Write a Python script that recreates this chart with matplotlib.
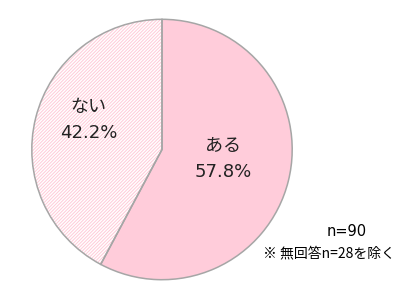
import matplotlib
matplotlib.use('Agg')
import matplotlib.pyplot as plt

plt.rcParams['font.family'] = ['DejaVu Sans', 'Noto Sans CJK JP']
plt.rcParams['hatch.linewidth'] = 0.7

labels = ['ある', 'ない']
values = [57.8, 42.2]
n_total = 90
n_missing = 28

pink = '#FFCCDA'
hatch_pink = '#FFCAD8'
edge = '#A6A6A6'

fig = plt.figure(figsize=(3.98, 3.07), dpi=100)
# pie box: centre (162, 149.5) px from top-left, radius 131.5 px
W, H = 398, 307
cx, cy, r = 162, 149.5, 131.5
ax = fig.add_axes([(cx - r) / W, (H - cy - r) / H, 2 * r / W, 2 * r / H])

# fill layer
wedges, _ = ax.pie(values, startangle=90, counterclock=False,
                   colors=[pink, 'white'], radius=1,
                   wedgeprops=dict(linewidth=0))
wedges[1].set_hatch('//////////')
wedges[1].set_edgecolor(hatch_pink)

# outline layer
ax.pie(values, startangle=90, counterclock=False, radius=1,
       wedgeprops=dict(fill=False, edgecolor=edge, linewidth=1.1))

ax.set_xlim(-1.01, 1.01)
ax.set_ylim(-1.01, 1.01)
ax.axis('off')

# labels inside slices
pos = [(0.47, -0.076), (-0.563, 0.224)]
for (x, y), lab, v in zip(pos, labels, values):
    ax.text(x, y + 0.1, lab, ha='center', va='center', fontsize=13, color='#222222')
    ax.text(x, y - 0.1, '{:.1f}%'.format(v), ha='center', va='center', fontsize=13, color='#222222')

fig.text(347 / W, 1 - 231 / H, 'n={}'.format(n_total), ha='center', va='center', fontsize=10.5)
fig.text(263 / W, 1 - 253 / H, '※ 無回答n={}を除く'.format(n_missing), ha='left', va='center',
         fontsize=10, family=['Noto Sans CJK JP', 'DejaVu Sans'])

fig.savefig('out.png', dpi=100)
